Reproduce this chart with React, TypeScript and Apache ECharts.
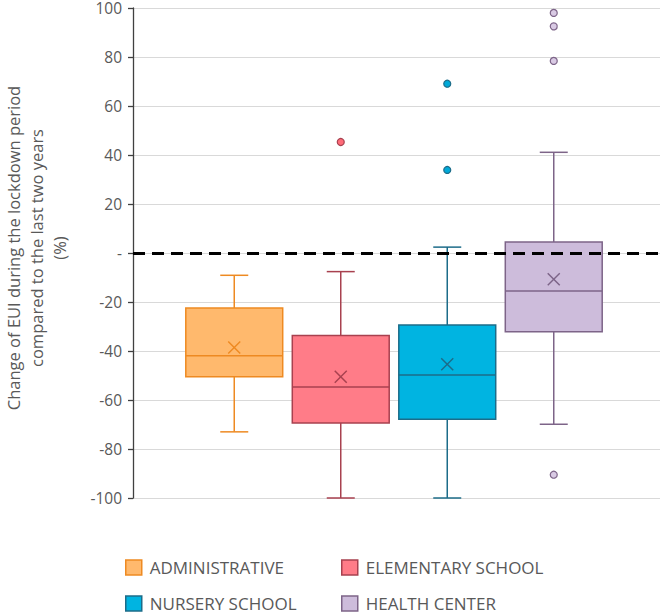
import React, { useEffect, useRef } from "react";
import * as echarts from "echarts";

const categories = ["ADMINISTRATIVE", "ELEMENTARY SCHOOL", "NURSERY SCHOOL", "HEALTH CENTER"];
const whiskerLow = [-73, -100, -100, -69.9];
const quartile1 = [-50.5, -69.4, -67.9, -32.1];
const medians = [-41.9, -54.7, -49.8, -15.5];
const quartile3 = [-22.4, -33.7, -29.4, 4.5];
const whiskerHigh = [-9.1, -7.6, 2.4, 41.1];
const means = [-38.6, -50.5, -45.4, -10.7];
const outliers: number[][] = [[], [45.3], [69.1, 33.9], [98, 92.5, 78.4, -90.5]];
const yTicks = { min: -100, max: 100, interval: 20 };

const fills = ["#FFB96D", "#FF7C88", "#00B4E1", "#CDBCDB"];
const strokes = ["#EE8A22", "#A8414F", "#1C6C89", "#7D6488"];
const outlierFills = ["#FFB96D", "#FF6B78", "#00A9D8", "#D9CAE4"];

const FONT = "'Open Sans', 'Liberation Sans', sans-serif";

function makeRender(fill: string, stroke: string) {
  return (params: any, api: any) => {
    const x = api.value(0);
    const lo = api.coord([x, api.value(1)])[1];
    const q1 = api.coord([x, api.value(2)])[1];
    const md = api.coord([x, api.value(3)])[1];
    const q3 = api.coord([x, api.value(4)])[1];
    const hi = api.coord([x, api.value(5)])[1];
    const mnPt = api.coord([x, api.value(6)]);
    const cx = mnPt[0];
    const mn = mnPt[1];
    const band = api.size([1, 0])[0];
    const bw = band * 0.91;
    const cap = 14;
    const xs = 6;
    const ls = { stroke, lineWidth: 1.5, fill: null };
    return {
      type: "group",
      children: [
        { type: "line", shape: { x1: cx, y1: hi, x2: cx, y2: q3 }, style: ls },
        { type: "line", shape: { x1: cx, y1: q1, x2: cx, y2: lo }, style: ls },
        { type: "line", shape: { x1: cx - cap, y1: hi, x2: cx + cap, y2: hi }, style: ls },
        { type: "line", shape: { x1: cx - cap, y1: lo, x2: cx + cap, y2: lo }, style: ls },
        {
          type: "rect",
          shape: { x: cx - bw / 2, y: q3, width: bw, height: q1 - q3 },
          style: { fill, stroke, lineWidth: 1.5 },
        },
        { type: "line", shape: { x1: cx - bw / 2, y1: md, x2: cx + bw / 2, y2: md }, style: ls },
        { type: "line", shape: { x1: cx - xs, y1: mn - xs, x2: cx + xs, y2: mn + xs }, style: ls },
        { type: "line", shape: { x1: cx - xs, y1: mn + xs, x2: cx + xs, y2: mn - xs }, style: ls },
      ],
    };
  };
}

export default function App() {
  const ref = useRef<HTMLDivElement>(null);
  useEffect(() => {
    document.body.style.margin = "0";
    if (!ref.current) return;
    const chart = echarts.init(ref.current, null, { renderer: "svg" });

    const boxSeries = categories.map((name, i) => ({
      name,
      type: "custom",
      xAxisIndex: 1,
      yAxisIndex: 1,
      z: 2,
      itemStyle: { color: fills[i], borderColor: strokes[i] },
      renderItem: makeRender(fills[i], strokes[i]),
      encode: { x: 0, y: [1, 2, 3, 4, 5] },
      data: [[i, whiskerLow[i], quartile1[i], medians[i], quartile3[i], whiskerHigh[i], means[i]]],
    }));

    const outlierSeries = categories.map((name, i) => ({
      name,
      type: "scatter",
      xAxisIndex: 1,
      yAxisIndex: 1,
      z: 3,
      symbol: "circle",
      symbolSize: 7,
      itemStyle: { color: outlierFills[i], borderColor: strokes[i], borderWidth: 1.2, opacity: 1 },
      data: outliers[i].map((v) => [i, v]),
    }));

    const legendPos = [
      { left: 125, top: 559 },
      { left: 341, top: 559 },
      { left: 125, top: 595 },
      { left: 341, top: 595 },
    ];

    const legends = categories.map((name, i) => ({
      data: [
        {
          name,
          icon: "rect",
          itemStyle: { color: fills[i], borderColor: strokes[i], borderWidth: 1.5 },
        },
      ],
      left: legendPos[i].left,
      top: legendPos[i].top,
      padding: 0,
      itemWidth: 16,
      itemHeight: 15,
      selectedMode: false,
      textStyle: { color: "#595959", fontSize: 17, fontFamily: FONT, padding: [0, 0, 0, 3] },
    }));

    chart.setOption({
      animation: false,
      backgroundColor: "#ffffff",
      grid: [
        { left: 133, right: 6, top: 8, bottom: 116 },
        { left: 181, right: 59, top: 8, bottom: 116 },
      ],
      xAxis: [
        { type: "value", gridIndex: 0, min: 0, max: 1, show: false },
        { type: "category", gridIndex: 1, data: categories, show: false },
      ],
      yAxis: [
        {
          type: "value",
          gridIndex: 0,
          min: yTicks.min,
          max: yTicks.max,
          interval: yTicks.interval,
          axisLine: { show: true, lineStyle: { color: "#404040", width: 1.3 } },
          axisTick: { show: true, length: 5, lineStyle: { color: "#404040", width: 1.3 } },
          splitLine: { show: true, lineStyle: { color: "#D9D9D9", width: 1 } },
          axisLabel: {
            color: "#595959",
            fontSize: 15.5,
            lineHeight: 14,
            fontFamily: FONT,
            margin: 11,
            formatter: (v: number) => (v === 0 ? "-" : String(v)),
          },
        },
        {
          type: "value",
          gridIndex: 1,
          min: yTicks.min,
          max: yTicks.max,
          interval: yTicks.interval,
          show: false,
        },
      ],
      legend: legends,
      graphic: [
        {
          type: "text",
          x: 36,
          y: 248,
          rotation: Math.PI / 2,
          style: {
            text: "Change of EUI during the lockdown period\ncompared to the last two years\n(%)",
            fill: "#595959",
            font: `16.5px ${FONT}`,
            align: "center",
            verticalAlign: "middle",
            lineHeight: 23,
          },
        },
      ],
      series: [
        ...boxSeries,
        ...outlierSeries,
        {
          name: "zero",
          type: "line",
          xAxisIndex: 0,
          yAxisIndex: 0,
          z: 5,
          data: [],
          markLine: {
            silent: true,
            symbol: "none",
            label: { show: false },
            lineStyle: { color: "#000000", type: [12, 7], width: 3 },
            data: [{ yAxis: 0 }],
          },
        },
      ],
    });
    return () => chart.dispose();
  }, []);
  return <div ref={ref} style={{ width: 666, height: 614 }} />;
}
